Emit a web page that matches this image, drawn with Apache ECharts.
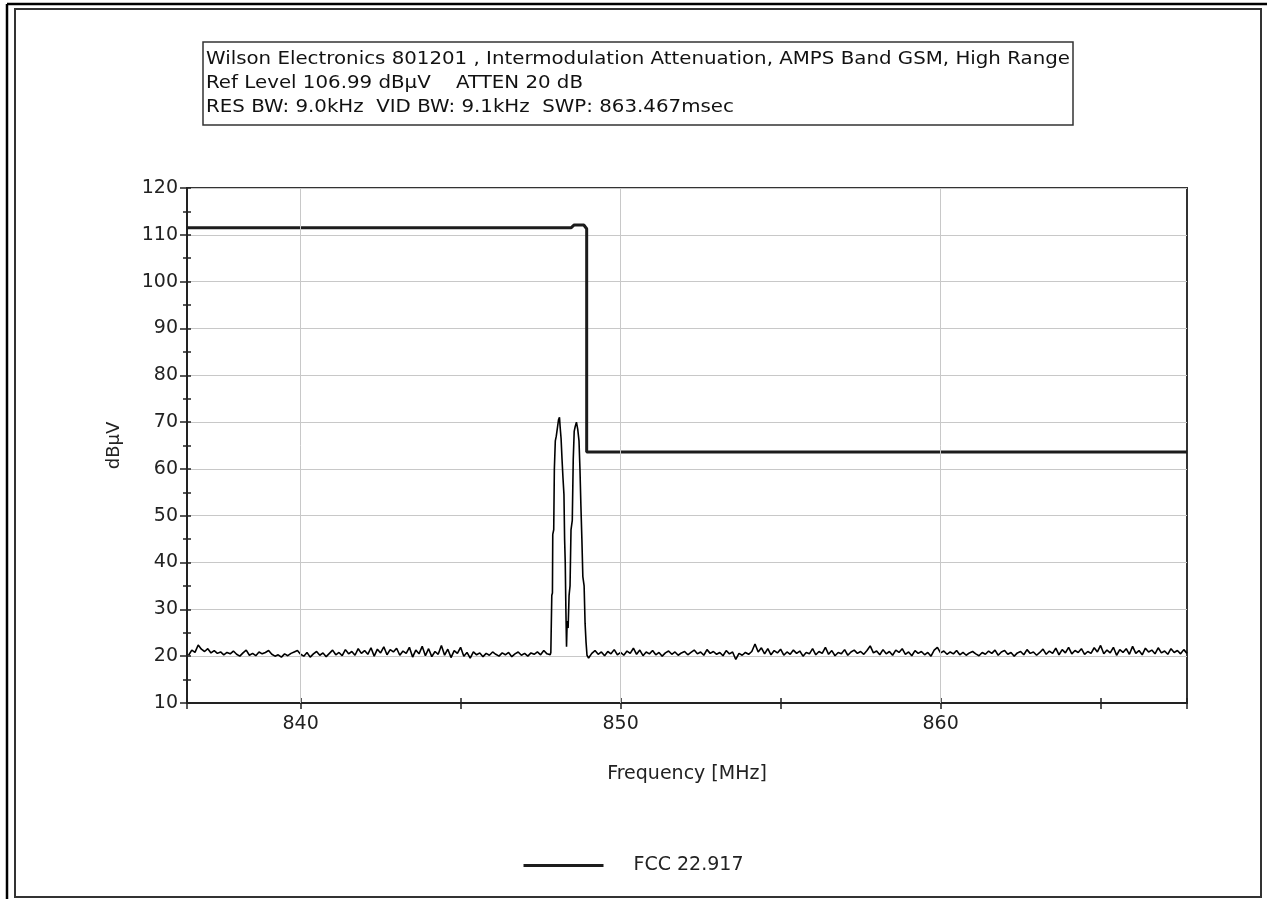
<!DOCTYPE html>
<html>
<head>
<meta charset="utf-8">
<script src="https://cdn.jsdelivr.net/npm/echarts@6/dist/echarts.min.js"></script>
<style>
html,body{margin:0;padding:0;background:#fff;}
#chart{width:1267px;height:899px;}
</style>
</head>
<body>
<div id="chart"></div>
<script>
// ---- data ----
var titleLines = [
  'Wilson Electronics 801201 , Intermodulation Attenuation, AMPS Band GSM, High Range',
  'Ref Level 106.99 dB\u00b5V    ATTEN 20 dB',
  'RES BW: 9.0kHz  VID BW: 9.1kHz  SWP: 863.467msec'
];
var legendName = 'FCC 22.917';
var xName = 'Frequency [MHz]';
var yName = 'dB\u00b5V';
var xMin = 836.45, xMax = 867.7;
var yMin = 10, yMax = 120, yStep = 10;
var gridFreqs = [840, 850, 860];

// FCC limit mask
var limitFreq  = [836.45, 848.45, 848.55, 848.85, 848.94, 848.94, 867.7];
var limitLevel = [111.5, 111.5, 112.1, 112.1, 111.3, 63.6, 63.6];

// sweep trace: noise floor below the peaks (0.1 MHz steps from 836.5)
var noiseLowStart = 836.5, sweepStep = 0.1;
var noiseLow = [
  20.2,21.3,20.8,22.4,21.5,21.0,21.6,20.7,21.2,20.6,
  20.9,20.3,20.8,20.5,21.1,20.4,20.0,20.7,21.3,20.2,
  20.6,20.1,20.9,20.5,20.8,21.2,20.4,20.0,20.3,19.8,
  20.5,20.1,20.6,20.9,21.2,20.4,20.0,20.8,19.8,20.5,
  21.0,20.2,20.7,19.9,20.6,21.3,20.3,20.8,20.1,21.4,
  20.5,21.0,20.2,21.6,20.6,21.2,20.4,21.8,20.0,21.5,
  20.7,22.0,20.3,21.4,20.9,21.7,20.2,21.1,20.6,21.9,
  19.8,21.3,20.5,22.1,20.1,21.6,19.9,21.0,20.4,22.3,
  20.2,21.5,19.7,21.2,20.6,21.9,20.0,20.8,19.6,20.9,
  20.3,20.7,19.9,20.6,20.2,20.9,20.4,20.0,20.7,20.3,
  20.8,19.9,20.5,20.9,20.2,20.6,20.0,20.7,20.4,20.9,
  20.3,21.2,20.5
];
// intermodulation products
var peakFreq = [847.80,847.82,847.83,847.85,847.87,847.88,847.91,847.93,847.96,847.99,
  848.02,848.06,848.09,848.11,848.14,848.17,848.20,848.23,848.25,848.27,
  848.29,848.31,848.33,848.36,848.39,848.42,848.45,848.49,848.52,848.55,
  848.58,848.62,848.66,848.70,848.73,848.76,848.79,848.82,848.86,848.89,
  848.92,848.95,849.00];
var peakLevel = [20.3,20.8,25.0,33.0,33.5,46.0,47.0,60.0,66.0,67.0,
  68.5,70.5,71.0,69.0,66.5,62.0,58.0,54.5,45.0,40.0,
  30.0,22.0,27.5,26.0,33.0,35.0,47.0,49.0,62.0,68.0,
  69.0,70.0,68.5,66.0,60.0,52.0,45.0,37.0,35.0,27.0,
  23.0,20.2,19.6];
// noise floor above the peaks (0.1 MHz steps from 849.1)
var noiseHighStart = 849.1;
var noiseHigh = [
  20.6,21.2,20.4,20.9,20.1,21.0,20.5,21.4,20.3,20.8,
  20.2,21.1,20.6,21.7,20.4,21.3,20.1,20.9,20.5,21.2,
  20.3,20.8,20.0,20.7,21.1,20.4,20.9,20.2,20.7,21.0,
  20.3,20.8,21.3,20.5,20.9,20.2,21.4,20.6,21.0,20.4,
  20.8,20.1,21.2,20.5,20.9,19.3,20.6,20.2,20.8,20.4,
  21.0,22.6,20.9,21.8,20.5,21.6,20.3,21.2,20.7,21.5,
  20.2,20.9,20.4,21.3,20.6,21.1,20.0,20.8,20.5,21.6,
  20.3,21.0,20.6,21.9,20.4,21.2,20.1,20.8,20.5,21.4,
  20.2,20.9,21.3,20.6,21.0,20.4,21.2,22.2,20.7,21.1,
  20.3,21.4,20.5,21.0,20.2,21.3,20.8,21.6,20.4,20.9,
  20.1,21.2,20.6,21.0,20.3,20.8,20.0,21.3,21.9,20.7,
  21.1,20.4,20.9,20.5,21.2,20.3,20.8,20.2,20.7,21.0,
  20.5,20.1,20.8,20.4,21.1,20.6,21.3,20.2,20.9,21.2,
  20.4,20.8,20.0,20.7,21.0,20.3,21.4,20.6,20.9,20.2,
  20.8,21.5,20.4,21.1,20.6,21.7,20.3,21.4,20.7,21.9,
  20.5,21.2,20.8,21.6,20.4,21.0,20.6,21.8,20.9,22.3,
  20.5,21.3,20.7,21.9,20.2,21.4,20.8,21.6,20.4,22.1,
  20.6,21.2,20.3,21.7,20.9,21.3,20.5,21.8,20.7,21.1,
  20.4,21.6,20.8,21.2,20.5,21.4,20.6
];

// ---- build series data ----
var trace = [];
noiseLow.forEach(function (v, i) { trace.push([+(noiseLowStart + i * sweepStep).toFixed(2), v]); });
peakFreq.forEach(function (f, i) { trace.push([f, peakLevel[i]]); });
noiseHigh.forEach(function (v, i) { trace.push([+(noiseHighStart + i * sweepStep).toFixed(2), v]); });
var limit = limitFreq.map(function (f, i) { return [f, limitLevel[i]]; });

var FONT = 'DejaVu Sans';
var chart = echarts.init(document.getElementById('chart'), null, {renderer: 'canvas'});

function xAxisCfg(primary) {
  return {
    type: 'value', min: xMin, max: xMax, splitNumber: 6,
    position: 'bottom',
    name: primary ? xName : '', nameLocation: 'middle', nameGap: 62,
    nameTextStyle: {fontFamily: FONT, fontSize: 19, color: '#222'},
    axisLine: {show: primary, lineStyle: {color: '#222', width: 2}},
    axisTick: {show: true, inside: !primary, length: primary ? 6 : 5, lineStyle: {color: '#222', width: 1.5}},
    axisLabel: {show: primary, margin: 12, fontFamily: FONT, fontSize: 19, color: '#222',
      formatter: function (v) { return (Math.abs(v % 10) < 1e-6) ? String(Math.round(v)) : ''; }},
    splitLine: {show: false}
  };
}
function yAxisCfg(primary) {
  return {
    type: 'value', min: yMin, max: yMax, interval: yStep,
    position: 'left',
    name: primary ? yName : '', nameLocation: 'middle', nameGap: 64,
    nameTextStyle: {fontFamily: FONT, fontSize: 18, color: '#222'},
    axisLine: {show: primary, lineStyle: {color: '#222', width: 2}},
    axisTick: {show: true, inside: !primary, length: primary ? 7 : 4, lineStyle: {color: '#222', width: 1.5}},
    minorTick: {show: true, splitNumber: 2, length: 4, lineStyle: {color: '#222', width: 1.5}},
    axisLabel: {show: primary, margin: 9, fontFamily: FONT, fontSize: 19, color: '#222'},
    splitLine: {show: primary, lineStyle: {color: '#c8c8c8', width: 1}}
  };
}

var option = {
  backgroundColor: '#fff',
  animation: false,
  grid: {left: 187, top: 188, right: 80, bottom: 196, show: true,
    borderColor: '#333', borderWidth: 2, backgroundColor: '#fff'},
  xAxis: [xAxisCfg(true), xAxisCfg(false)],
  yAxis: [yAxisCfg(true), yAxisCfg(false)],
  legend: {
    data: [legendName], left: 'center', top: 851,
    icon: 'rect', itemWidth: 80, itemHeight: 3,
    textStyle: {fontFamily: FONT, fontSize: 19, color: '#222', padding: [0, 0, 0, 25]}
  },
  graphic: [
    {type: 'line', shape: {x1: 7, y1: 4, x2: 1267, y2: 4}, style: {stroke: '#000', lineWidth: 2.5}, silent: true},
    {type: 'line', shape: {x1: 7, y1: 4, x2: 7, y2: 899}, style: {stroke: '#000', lineWidth: 2.5}, silent: true},
    {type: 'rect', shape: {x: 15, y: 9, width: 1246, height: 888}, style: {fill: 'none', stroke: '#333', lineWidth: 2}, silent: true},
    {type: 'rect', shape: {x: 203, y: 42, width: 870, height: 83}, style: {fill: '#fff', stroke: '#333', lineWidth: 1.5}, silent: true},
    {type: 'text', x: 206, y: 47, scaleX: 1.1, style: {text: titleLines.join('\n'), font: '18px "' + FONT + '"', fill: '#111', lineHeight: 24}, silent: true}
  ],
  series: [
    {
      name: 'grid', type: 'line', data: [], z: 1, silent: true,
      markLine: {silent: true, symbol: 'none', label: {show: false},
        lineStyle: {color: '#c8c8c8', width: 1, type: 'solid'},
        data: gridFreqs.map(function (f) { return {xAxis: f}; })}
    },
    {
      name: 'trace', type: 'line', data: trace, showSymbol: false, symbol: 'none',
      lineStyle: {color: '#000', width: 1.6}, itemStyle: {color: '#000'}, z: 3, clip: true
    },
    {
      name: legendName, type: 'line', data: limit, showSymbol: false, symbol: 'none',
      lineStyle: {color: '#1c1c1c', width: 3}, itemStyle: {color: '#1c1c1c'}, z: 4, clip: true
    }
  ]
};
chart.setOption(option);
</script>
</body>
</html>
